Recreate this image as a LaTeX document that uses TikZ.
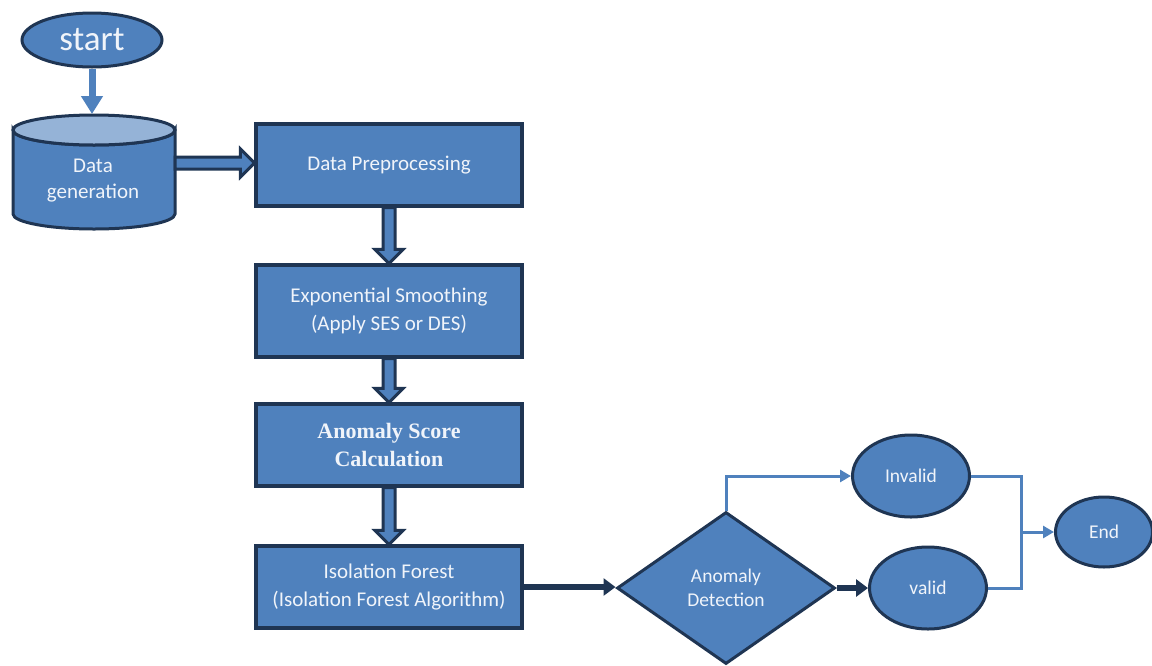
\documentclass[tikz,border=0pt]{standalone}
\usepackage{fontspec}
\setmainfont{Carlito}
\newfontfamily\serifb{Liberation Serif}
\usetikzlibrary{shapes.geometric,arrows.meta,calc}
\definecolor{fillb}{HTML}{4F81BD}
\definecolor{darkb}{HTML}{1F3553}
\definecolor{lightb}{HTML}{95B3D7}
\definecolor{txt}{HTML}{F0F4FA}
\tikzset{
  procbox/.style={draw=darkb, line width=3.2pt, fill=fillb, minimum width=266pt, minimum height=82pt, text=txt, align=center, font=\fontsize{21}{27}\selectfont, inner sep=0pt},
  oval/.style={ellipse, draw=darkb, line width=3pt, fill=fillb, text=txt, inner sep=0pt, font=\fontsize{19.5}{22}\selectfont},
  blockarr/.style={draw=darkb, line width=3pt, fill=fillb, line join=miter},
  darkarr/.style={draw=darkb, line width=5.5pt, -{Triangle[length=12pt,width=17pt]}},
  thinarr/.style={draw=fillb, line width=3pt, -{Triangle[length=11pt,width=12pt]}},
  thinline/.style={draw=fillb, line width=3pt},
}
\begin{document}
\begin{tikzpicture}[x=1pt,y=-1pt]
\useasboundingbox (0,0) rectangle (1152,665);

% start
\node[oval, minimum width=140pt, minimum height=54pt, font=\fontsize{35}{38}\selectfont] (start) at (92,40) {start};

% cylinder (Data generation)
\coordinate (cyltop) at (94,130);
\path[fill=fillb, draw=darkb, line width=3pt]
  (13,130) -- (13,214) arc[start angle=180, end angle=360, x radius=81pt, y radius=15pt]
  -- (175,130) arc[start angle=0, end angle=-180, x radius=81pt, y radius=15pt] -- cycle;
\path[fill=lightb, draw=darkb, line width=3pt]
  (cyltop) ellipse[x radius=81pt, y radius=15pt];
\node[text=txt, align=center, font=\fontsize{21}{26}\selectfont, inner sep=0pt] (dg) at (93,181) {Data\\generation};
\coordinate (cylE) at (175,163);
\coordinate (cylN) at (92,114);

% boxes
\node[procbox] (dp) at (389,165) {Data Preprocessing};
\node[procbox, minimum height=92pt, font=\fontsize{21}{28}\selectfont] (es) at (389,311) {Exponential Smoothing\\(Apply SES or DES)};
\node[procbox, font=\serifb\bfseries\fontsize{22}{28}\selectfont] (as) at (389,445) {Anomaly Score\\Calculation};
\node[procbox, font=\fontsize{21}{28}\selectfont] (if) at (389,587) {Isolation Forest\\(Isolation Forest Algorithm)};

% diamond and ovals
\node[diamond, draw=darkb, line width=3pt, fill=fillb, minimum width=218pt, minimum height=152pt, inner sep=0pt, aspect=1.43, text=txt, align=center, font=\fontsize{19.5}{24}\selectfont] (ad) at (726,588) {Anomaly\\Detection};
\node[oval, minimum width=117pt, minimum height=82pt] (inv) at (911,476) {Invalid};
\node[oval, minimum width=117pt, minimum height=82pt] (val) at (928,588) {valid};
\node[oval, minimum width=97pt, minimum height=70pt] (end) at (1104,532) {End};

% start -> cylinder
\draw[draw=fillb, line width=7pt, -{Triangle[length=18pt,width=21pt]}] (start.south) -- (cylN);

% block arrow cylinder -> Data Preprocessing
\path[blockarr] let \p1=(cylE), \p2=(dp.west) in
  (\x1,\y1+6pt) -- (\x2-14pt,\y1+6pt) -- (\x2-14pt,\y1+14pt) -- (\x2,\y1) -- (\x2-14pt,\y1-14pt) -- (\x2-14pt,\y1-6pt) -- (\x1,\y1-6pt) -- cycle;

% vertical block arrows
\foreach \a/\b in {dp/es, es/as, as/if}{
  \path[blockarr] let \p1=(\a.south), \p2=(\b.north) in
    (\x1-6pt,\y1) -- (\x1-6pt,\y2+14pt) -- (\x1-14pt,\y2+14pt) -- (\x1,\y2) -- (\x1+14pt,\y2+14pt) -- (\x1+6pt,\y2+14pt) -- (\x1+6pt,\y1) -- cycle;
}

% dark connectors
\draw[darkarr] (if.east) -- (if.east -| ad.west);
\draw[darkarr] (ad.east) -- (val.west);

% thin connectors
\draw[thinarr] (ad.north) |- (inv.west);
\coordinate (jn) at (1021,532);
\draw[thinline] (inv.east) -| (jn);
\draw[thinline] (val.east) -| (jn);
\draw[thinarr] (jn) -- (end.west);
\end{tikzpicture}
\end{document}
